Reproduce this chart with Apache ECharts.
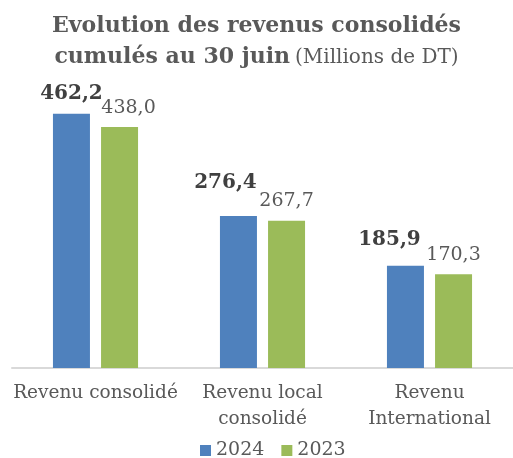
<!DOCTYPE html>
<html>
<head>
<meta charset="utf-8">
<script src="https://cdn.jsdelivr.net/npm/echarts@6/dist/echarts.min.js"></script>
<style>
  html, body { margin: 0; padding: 0; background: #fff; }
  #main { width: 513px; height: 458px; }
</style>
</head>
<body>
<div id="main"></div>
<script>
// données (millions de DT)
var categories = ["Revenu consolidé", "Revenu local\nconsolidé", "Revenu\nInternational"];
var years = ["2024", "2023"];
var values2024 = [462.2, 276.4, 185.9];
var values2023 = [438.0, 267.7, 170.3];

// décalage des étiquettes, comme sur l'original
var offsets2024 = [[0, 0], [-13, -13], [-16, -6]];
var offsets2023 = [[9, 0], [0, 0], [0, 0]];

var serif = "DejaVu Serif";
var fmt = function (v) { return v.toFixed(1).replace(".", ","); };

function makeData(vals, offs) {
  return vals.map(function (v, i) {
    return { value: v, label: { offset: offs[i] } };
  });
}

var chart = echarts.init(document.getElementById("main"));
var option = {
  animation: false,
  title: {
    left: "center",
    top: 6,
    text: "{b|Evolution des revenus consolidés}\n{b|cumulés au 30 juin} {n|(Millions de DT)}",
    textStyle: {
      rich: {
        b: { fontFamily: serif, fontSize: 22, fontWeight: "bold", color: "#595959", lineHeight: 31 },
        n: { fontFamily: serif, fontSize: 20, fontWeight: "normal", color: "#595959", lineHeight: 31 }
      }
    }
  },
  legend: {
    data: years,
    bottom: -7,
    left: 195,
    itemWidth: 11,
    itemHeight: 11,
    itemGap: 17,
    icon: "rect",
    textStyle: { fontFamily: serif, fontSize: 19, color: "#595959" }
  },
  grid: { left: 12, width: 504, top: 93, height: 275 },
  xAxis: {
    type: "category",
    data: categories,
    axisLine: { lineStyle: { color: "#D9D9D9", width: 2 } },
    axisTick: { show: false },
    axisLabel: { fontFamily: serif, fontSize: 18.5, color: "#595959", lineHeight: 26, margin: 12, interval: 0 }
  },
  yAxis: {
    type: "value",
    min: 0,
    max: 500,
    show: false
  },
  series: [
    {
      name: years[0],
      type: "bar",
      barWidth: 37,
      barGap: "30%",
      itemStyle: { color: "#4F81BD" },
      label: {
        show: true,
        position: "top",
        distance: 10,
        fontFamily: serif,
        fontSize: 20,
        fontWeight: "bold",
        color: "#404040",
        formatter: function (p) { return fmt(p.value); }
      },
      data: makeData(values2024, offsets2024)
    },
    {
      name: years[1],
      type: "bar",
      barWidth: 37,
      barGap: "30%",
      itemStyle: { color: "#9BBB59" },
      label: {
        show: true,
        position: "top",
        distance: 10,
        fontFamily: serif,
        fontSize: 19,
        color: "#595959",
        formatter: function (p) { return fmt(p.value); }
      },
      data: makeData(values2023, offsets2023)
    }
  ]
};
chart.setOption(option);
</script>
</body>
</html>
